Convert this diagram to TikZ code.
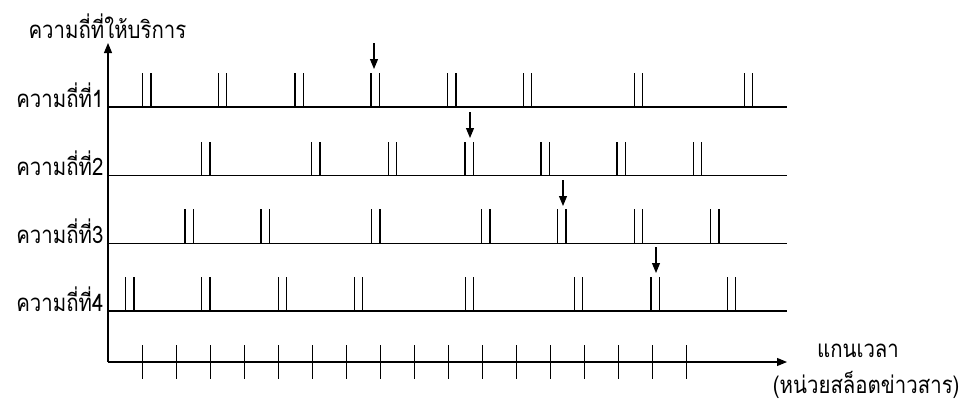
\documentclass[tikz,border=0pt]{standalone}
\usepackage{fontspec}
\usepackage{graphicx}
\usepackage{tikz}
\usetikzlibrary{arrows.meta,positioning,calc}
\newfontfamily\thaifont[Script=Thai]{Loma}
\newcommand{\thtext}[1]{\scalebox{0.85}[1]{#1}}

\begin{document}
\begin{tikzpicture}[x=0.75pt,y=-0.75pt,line width=0.8pt,
  lbl/.style={font=\thaifont\fontsize{18}{21}\selectfont,inner sep=0pt},
  slotarrow/.style={-{Triangle[length=7.5pt,width=6pt]},line width=0.8pt}]
\useasboundingbox (0,0) rectangle (966,407);
\coordinate (o) at (108,362);
\coordinate (ytop) at (108,43);
\coordinate (tend) at (787,362);
\draw[slotarrow] (o)--(ytop);
\draw[slotarrow] (o)--(tend);
\foreach \k in {0,...,16}{\draw (142.7+34*\k,345)--++(0,34);}
\node[lbl,anchor=base west] (title) at (28,38) {\thtext{ความถี่ที่ให้บริการ}};
\node[lbl,anchor=base] (tlab) at (858,357) {\thtext{แกนเวลา}};
\node[lbl,anchor=base east] (unit) at (960,393) {\thtext{(หน่วยสล็อตข่าวสาร)}};
\foreach \i/\y/\xs in {1/107/{142.7,218.3,295,371,447.7,523.3,634.3,744.3},
  2/175.7/{201.7,311.7,388.3,465,541,617,693.5},
  3/243.3/{185,261,371.7,481.7,557.7,634.3,710.7},
  4/311/{125.7,201.7,278.3,354.3,465.2,574.3,651,727.5}}{
  \coordinate (f\i s) at (108,\y);
  \coordinate (f\i e) at (787,\y);
  \draw (f\i s)--(f\i e);
  \node[lbl,anchor=base east] (lab\i) at (104,\y) {\thtext{ความถี่ที่\i}};
  \foreach \x in \xs {\draw (\x,\y)--++(0,-34) (\x+8.3,\y)--++(0,-34);}
}
\foreach \i/\x/\y in {1/374/43,2/470/112,3/563/180,4/656/247}{
  \coordinate (s\i) at (\x,\y);
  \coordinate (t\i) at (\x,\y+26);
  \draw[slotarrow] (s\i)--(t\i);
}
\end{tikzpicture}
\end{document}
